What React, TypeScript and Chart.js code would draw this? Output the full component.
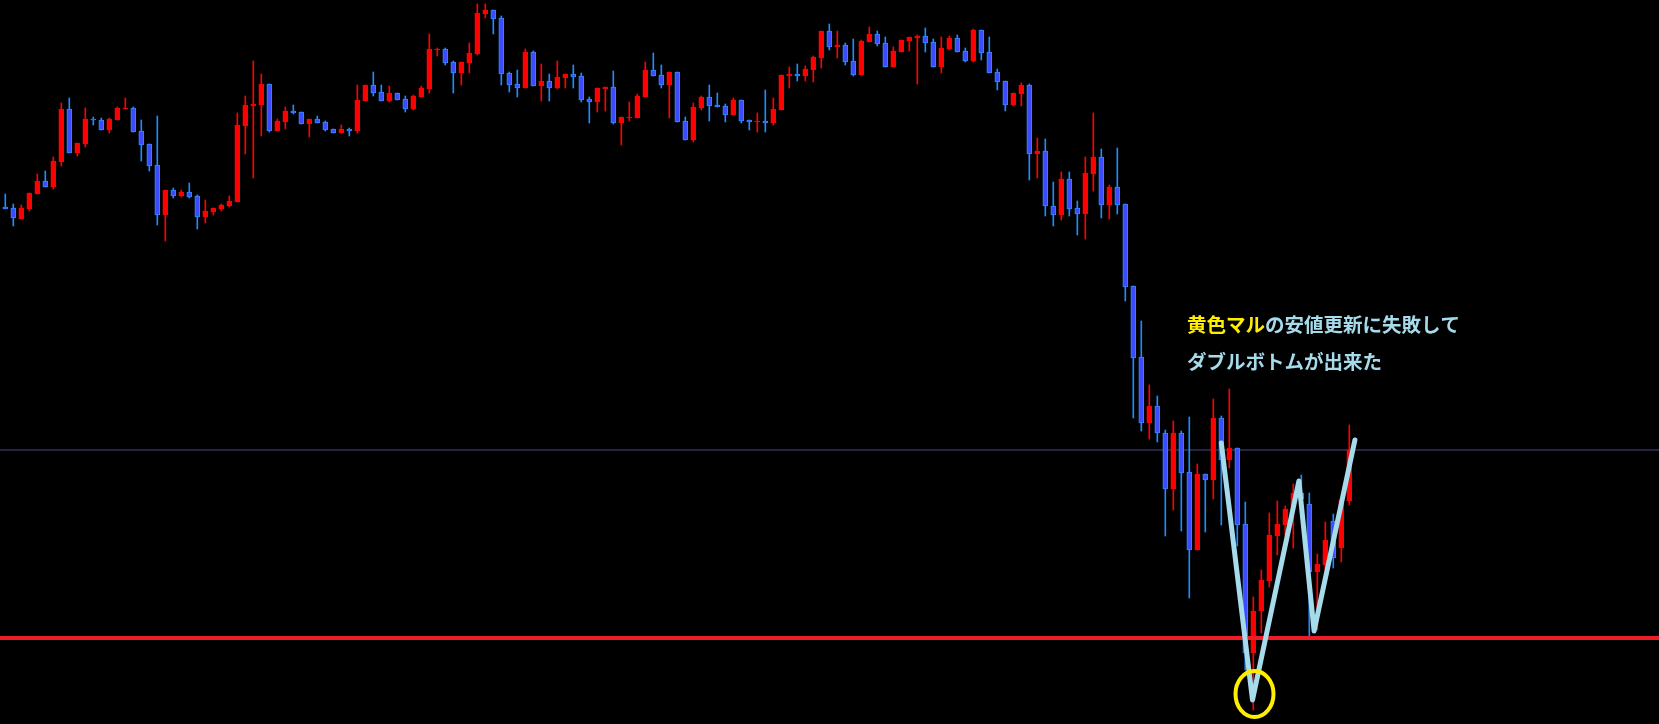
import React, { useEffect, useRef } from "react";
import { Chart, registerables } from "chart.js";

Chart.register(...registerables);

// OHLC prices, one entry per candle (oldest first)
const opens = [
  147.93, 147.92, 147.81, 147.91, 148.06, 148.19, 148.13, 148.38, 148.91, 148.47,
  148.56, 148.81, 148.80, 148.70, 148.80, 148.91, 148.92, 148.69, 148.56, 148.35,
  147.85, 148.10, 148.04, 148.08, 148.04, 147.83, 147.88, 147.91, 147.94, 147.98,
  148.74, 148.94, 148.95, 149.16, 148.69, 148.78, 148.89, 148.88, 148.76, 148.81,
  148.78, 148.71, 148.67, 148.71, 148.69, 148.99, 149.15, 149.08, 148.99, 149.07,
  149.01, 148.91, 149.03, 149.11, 149.50, 149.51, 149.38, 149.27, 149.37, 149.46,
  149.86, 149.90, 149.82, 149.27, 149.16, 149.12, 149.48, 149.14, 149.19, 149.12,
  149.22, 149.26, 149.24, 149.01, 148.98, 149.11, 149.13, 148.77, 148.82, 148.82,
  149.03, 149.30, 149.25, 149.15, 149.28, 148.79, 148.60, 148.92, 149.03, 148.95,
  148.94, 148.85, 149.00, 148.80, 148.78, 148.79, 148.77, 148.90, 149.24, 149.26,
  149.24, 149.30, 149.42, 149.69, 149.53, 149.55, 149.39, 149.25, 149.58, 149.66,
  149.57, 149.33, 149.48, 149.59, 149.62, 149.64, 149.58, 149.33, 149.51, 149.62,
  149.49, 149.39, 149.70, 149.48, 149.28, 149.19, 148.95, 149.06, 149.15, 148.46,
  148.49, 147.94, 147.85, 148.21, 147.92, 147.86, 148.26, 148.43, 147.95, 148.13,
  147.96, 147.14, 146.43, 145.77, 145.94, 145.67, 145.11, 145.67, 145.28, 144.50,
  145.26, 145.20, 145.82, 145.40, 145.52, 144.76, 143.47, 143.89, 144.19, 144.64,
  144.75, 144.93, 145.07, 144.96, 144.28, 144.35, 144.79, 144.52, 144.99,
];

const highs = [
  148.06, 147.96, 147.95, 148.07, 148.26, 148.29, 148.43, 148.97, 149.02, 148.57,
  148.92, 148.83, 148.82, 148.82, 148.93, 149.02, 148.93, 148.80, 148.56, 148.84,
  148.10, 148.12, 148.10, 148.17, 148.05, 148.00, 147.92, 147.96, 148.04, 148.87,
  149.04, 149.39, 149.26, 149.16, 148.81, 148.93, 148.95, 148.88, 148.81, 148.84,
  148.79, 148.71, 148.75, 148.72, 149.15, 149.15, 149.28, 149.15, 149.14, 149.07,
  149.04, 149.05, 149.14, 149.66, 149.52, 149.52, 149.39, 149.38, 149.57, 149.96,
  149.96, 149.90, 149.84, 149.28, 149.30, 149.51, 149.49, 149.36, 149.26, 149.39,
  149.26, 149.35, 149.27, 149.03, 149.12, 149.13, 149.29, 148.83, 148.98, 149.06,
  149.38, 149.47, 149.35, 149.28, 149.28, 148.83, 148.97, 149.04, 149.15, 149.07,
  148.96, 149.02, 149.00, 148.80, 148.87, 149.10, 149.02, 149.25, 149.33, 149.36,
  149.34, 149.44, 149.69, 149.76, 149.69, 149.57, 149.61, 149.60, 149.73, 149.69,
  149.63, 149.53, 149.60, 149.63, 149.65, 149.72, 149.61, 149.63, 149.64, 149.65,
  149.52, 149.71, 149.70, 149.63, 149.31, 149.19, 149.07, 149.17, 149.16, 148.62,
  148.61, 148.18, 148.28, 148.28, 147.99, 148.43, 148.87, 148.51, 148.15, 148.52,
  147.96, 147.14, 146.79, 146.15, 146.04, 145.70, 145.79, 145.69, 145.83, 145.36,
  145.26, 146.01, 145.84, 146.11, 145.52, 144.98, 144.03, 144.30, 144.87, 144.99,
  144.94, 145.16, 145.25, 145.07, 144.46, 144.78, 144.86, 145.00, 145.75,
];

const lows = [
  147.91, 147.74, 147.81, 147.89, 148.06, 148.13, 148.11, 148.34, 148.47, 148.44,
  148.53, 148.75, 148.70, 148.67, 148.80, 148.91, 148.68, 148.39, 148.29, 147.75,
  147.59, 148.02, 148.03, 148.02, 147.71, 147.77, 147.85, 147.89, 147.93, 147.98,
  148.46, 148.22, 148.64, 148.68, 148.69, 148.71, 148.86, 148.76, 148.63, 148.77,
  148.69, 148.67, 148.67, 148.64, 148.67, 148.99, 149.04, 148.99, 148.98, 149.00,
  148.88, 148.90, 149.03, 149.07, 149.44, 149.35, 149.07, 149.15, 149.27, 149.45,
  149.82, 149.66, 149.15, 149.08, 149.03, 149.12, 149.14, 148.99, 148.99, 149.11,
  149.12, 149.12, 148.98, 148.77, 148.88, 148.89, 148.76, 148.55, 148.79, 148.82,
  149.03, 149.24, 149.12, 148.82, 148.78, 148.60, 148.58, 148.90, 148.79, 148.93,
  148.78, 148.85, 148.77, 148.70, 148.68, 148.68, 148.75, 148.90, 149.12, 149.19,
  149.19, 149.18, 149.32, 149.50, 149.42, 149.35, 149.24, 149.25, 149.58, 149.54,
  149.33, 149.33, 149.48, 149.49, 149.16, 149.48, 149.33, 149.27, 149.50, 149.48,
  149.38, 149.38, 149.40, 149.27, 149.10, 148.89, 148.94, 148.94, 148.20, 148.22,
  147.84, 147.74, 147.80, 147.84, 147.65, 147.61, 148.09, 147.82, 147.81, 147.86,
  146.99, 145.82, 145.69, 145.61, 145.58, 144.64, 144.90, 144.69, 144.02, 144.50,
  144.68, 145.01, 144.75, 145.32, 144.54, 143.30, 142.90, 143.67, 144.13, 144.45,
  144.65, 144.52, 144.90, 143.64, 143.70, 144.30, 144.32, 144.38, 144.95,
];

const closes = [
  147.91, 147.82, 147.92, 148.07, 148.19, 148.13, 148.39, 148.91, 148.47, 148.57,
  148.81, 148.80, 148.70, 148.81, 148.92, 148.92, 148.68, 148.55, 148.34, 147.85,
  148.10, 148.04, 148.08, 148.03, 147.83, 147.89, 147.92, 147.95, 147.99, 148.75,
  148.95, 148.96, 149.16, 148.69, 148.79, 148.89, 148.87, 148.76, 148.81, 148.77,
  148.70, 148.67, 148.71, 148.69, 149.00, 149.15, 149.07, 148.99, 149.07, 149.00,
  148.91, 149.04, 149.12, 149.51, 149.51, 149.37, 149.27, 149.38, 149.47, 149.87,
  149.90, 149.81, 149.26, 149.15, 149.12, 149.48, 149.14, 149.19, 149.12, 149.23,
  149.26, 149.23, 149.00, 148.98, 149.12, 149.13, 148.77, 148.83, 148.83, 149.04,
  149.30, 149.24, 149.15, 149.28, 148.78, 148.60, 148.93, 149.03, 148.94, 148.93,
  148.85, 149.00, 148.79, 148.78, 148.79, 148.77, 148.91, 149.25, 149.26, 149.24,
  149.31, 149.43, 149.69, 149.53, 149.55, 149.38, 149.25, 149.59, 149.66, 149.56,
  149.33, 149.49, 149.60, 149.63, 149.64, 149.57, 149.33, 149.52, 149.62, 149.48,
  149.39, 149.70, 149.47, 149.27, 149.18, 148.95, 149.07, 149.15, 148.46, 148.49,
  147.94, 147.85, 148.21, 147.91, 147.86, 148.27, 148.43, 147.95, 148.13, 147.95,
  147.13, 146.42, 145.77, 145.94, 145.67, 145.11, 145.67, 145.27, 144.50, 145.26,
  145.20, 145.82, 145.40, 145.52, 144.75, 143.47, 143.89, 144.20, 144.65, 144.76,
  144.91, 145.07, 145.01, 144.28, 144.36, 144.60, 144.42, 145.00, 145.50,
];

// horizontal levels
const gridLevel = 145.5;
const supportLevel = 143.62;

// hand-drawn "W" (double bottom) polyline: candle index / price
const wIndex = [152.0, 155.9, 161.7, 163.6, 168.7];
const wPrice = [145.57, 143.0, 145.19, 143.69, 145.6];

// yellow circle marking the failed new low
const circleIndex = 156.15;
const circlePrice = 143.06;

const noteLine1Yellow = "黄色マル";
const noteLine1Rest = "の安値更新に失敗して";
const noteLine2 = "ダブルボトムが出来た";

const X_MIN = -0.6625;
const X_MAX = 206.7125;
const Y_MIN = 142.76;
const Y_MAX = 150.0;

const UP = "#ff0000";
const DOWN_FILL = "#3b4cff";
const DOWN_EDGE = "#2f88ff";
const DOWN_WICK = "#1e8cff";
const LIGHT_BLUE = "#a6dbeb";
const YELLOW = "#ffee00";

export default function App() {
  const ref = useRef<HTMLCanvasElement | null>(null);

  useEffect(() => {
    const canvas = ref.current;
    if (!canvas) return;
    const isUp = opens.map((o, i) => closes[i] >= o);

    const overlay = {
      id: "overlay",
      afterDatasetsDraw(chart: any) {
        const { ctx, scales } = chart;
        const cx = scales.x.getPixelForValue(circleIndex);
        const cy = scales.y.getPixelForValue(circlePrice);
        ctx.save();
        ctx.strokeStyle = YELLOW;
        ctx.lineWidth = 4;
        ctx.beginPath();
        ctx.ellipse(cx, cy, 19, 23, 0, 0, Math.PI * 2);
        ctx.stroke();
        ctx.restore();
      },
      afterDraw(chart: any) {
        const { ctx } = chart;
        ctx.save();
        ctx.font = 'bold 19.5px "Noto Sans CJK JP"';
        ctx.textBaseline = "middle";
        ctx.textAlign = "left";
        const x0 = 1187;
        ctx.fillStyle = YELLOW;
        ctx.fillText(noteLine1Yellow, x0, 325);
        const w = ctx.measureText(noteLine1Yellow).width;
        ctx.fillStyle = LIGHT_BLUE;
        ctx.fillText(noteLine1Rest, x0 + w, 325);
        ctx.fillText(noteLine2, x0, 362);
        ctx.restore();
      },
    };

    const chart = new Chart(canvas, {
      type: "bar",
      data: {
        datasets: [
          {
            type: "line",
            label: "grid",
            data: [
              { x: X_MIN, y: gridLevel },
              { x: X_MAX, y: gridLevel },
            ],
            borderColor: "#4e4a86",
            borderWidth: 1,
            pointRadius: 0,
            order: 4,
          } as any,
          {
            label: "wicks",
            data: highs.map((h, i) => ({ x: i, y: [lows[i], h] })),
            backgroundColor: isUp.map((u) => (u ? UP : DOWN_WICK)),
            barThickness: 1,
            grouped: false,
            order: 3,
          } as any,
          {
            label: "bodies",
            data: opens.map((o, i) => ({
              x: i,
              y: [Math.min(o, closes[i]), Math.max(o, closes[i])],
            })),
            backgroundColor: isUp.map((u) => (u ? UP : DOWN_FILL)),
            borderColor: isUp.map((u) => (u ? UP : DOWN_EDGE)),
            borderWidth: 1,
            borderSkipped: false,
            barThickness: 5,
            minBarLength: 1,
            grouped: false,
            order: 2,
          } as any,
          {
            type: "line",
            label: "support",
            data: [
              { x: X_MIN, y: supportLevel },
              { x: X_MAX, y: supportLevel },
            ],
            borderColor: "#ee1c25",
            borderWidth: 4,
            pointRadius: 0,
            order: 1,
          } as any,
          {
            type: "line",
            label: "W",
            data: wIndex.map((x, i) => ({ x, y: wPrice[i] })),
            borderColor: LIGHT_BLUE,
            borderWidth: 5,
            pointRadius: 0,
            tension: 0,
            borderJoinStyle: "round",
            borderCapStyle: "round",
            order: 0,
          } as any,
        ],
      },
      options: {
        responsive: false,
        animation: false,
        devicePixelRatio: 1,
        layout: { padding: 0 },
        plugins: {
          legend: { display: false },
          tooltip: { enabled: false },
        },
        scales: {
          x: {
            type: "linear",
            min: X_MIN,
            max: X_MAX,
            offset: false,
            display: false,
          },
          y: {
            type: "linear",
            min: Y_MIN,
            max: Y_MAX,
            beginAtZero: false,
            display: false,
          },
        },
      } as any,
      plugins: [overlay],
    });
    return () => chart.destroy();
  }, []);

  return (
    <div
      style={{
        position: "fixed",
        left: 0,
        top: 0,
        width: 1659,
        height: 724,
        background: "#000",
        overflow: "hidden",
      }}
    >
      <canvas ref={ref} width={1659} height={724} style={{ display: "block" }} />
    </div>
  );
}
